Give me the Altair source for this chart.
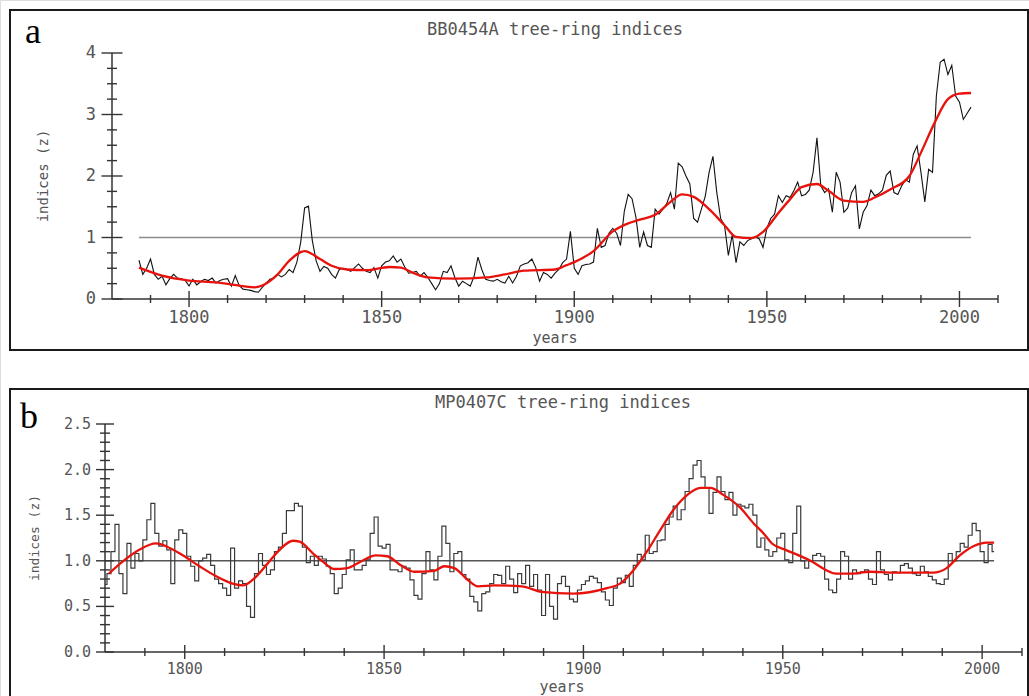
import altair as alt
import pandas as pd

# ---------------- data ----------------
A_START = 1787
a_index = [
    0.63, 0.40, 0.50, 0.65, 0.40, 0.32, 0.37, 0.23, 0.33, 0.40,
    0.34, 0.33, 0.30, 0.21, 0.32, 0.23, 0.28, 0.32, 0.30, 0.34,
    0.26, 0.30, 0.32, 0.33, 0.21, 0.38, 0.22, 0.16, 0.15, 0.14,
    0.12, 0.11, 0.19, 0.26, 0.32, 0.34, 0.40, 0.36, 0.40, 0.48,
    0.43, 0.60, 0.93, 1.48, 1.51, 0.95, 0.62, 0.45, 0.53, 0.50,
    0.40, 0.34, 0.48, 0.50, 0.48, 0.45, 0.51, 0.57, 0.50, 0.45,
    0.43, 0.51, 0.34, 0.54, 0.60, 0.62, 0.70, 0.60, 0.65, 0.52,
    0.42, 0.43, 0.45, 0.37, 0.43, 0.35, 0.25, 0.15, 0.25, 0.45,
    0.43, 0.54, 0.35, 0.21, 0.29, 0.25, 0.21, 0.37, 0.68, 0.48,
    0.32, 0.30, 0.29, 0.32, 0.28, 0.26, 0.37, 0.26, 0.37, 0.54,
    0.57, 0.59, 0.65, 0.51, 0.29, 0.43, 0.40, 0.34, 0.42, 0.48,
    0.59, 0.65, 1.10, 0.50, 0.40, 0.54, 0.56, 0.57, 0.60, 1.15,
    0.84, 0.87, 1.07, 1.15, 1.07, 0.87, 1.43, 1.70, 1.63, 1.33,
    0.84, 1.09, 0.87, 0.84, 1.46, 1.38, 1.46, 1.55, 1.73, 1.46,
    2.21, 2.15, 2.00, 1.87, 1.31, 1.25, 1.46, 1.67, 2.06, 2.32,
    1.73, 1.31, 1.20, 0.71, 1.04, 0.59, 0.93, 0.87, 0.95, 0.98,
    1.01, 0.98, 0.84, 1.15, 1.31, 1.38, 1.68, 1.57, 1.68, 1.65,
    1.76, 1.90, 1.68, 1.70, 1.77, 2.06, 2.62, 1.84, 1.73, 1.79,
    1.41, 2.06, 1.90, 1.41, 1.48, 1.73, 1.84, 1.14, 1.41, 1.52,
    1.77, 1.68, 1.71, 1.77, 2.01, 2.08, 1.73, 1.70, 1.84, 1.94,
    1.90, 2.35, 2.49, 2.06, 1.58, 2.11, 2.06, 3.30, 3.85, 3.90,
    3.65, 3.80, 3.30, 3.20, 2.92, 3.02, 3.12,
]
a_smooth_years = [1787, 1793, 1800, 1807, 1814, 1817, 1819, 1823, 1826, 1830,
                  1834, 1837, 1841, 1846, 1852, 1855, 1858, 1862, 1869, 1877,
                  1882, 1887, 1895, 1898, 1900, 1905, 1910, 1914, 1917, 1921,
                  1925, 1928, 1931, 1935, 1939, 1942, 1946, 1949, 1953, 1956,
                  1959, 1963, 1966, 1970, 1975, 1978, 1982, 1987, 1990, 1993.5,
                  1997, 2000, 2003]
a_smooth_vals = [0.51, 0.38, 0.30, 0.27, 0.21, 0.19, 0.22, 0.40, 0.62, 0.78,
                 0.65, 0.54, 0.48, 0.47, 0.52, 0.51, 0.43, 0.35, 0.33, 0.35,
                 0.40, 0.46, 0.48, 0.55, 0.60, 0.78, 1.10, 1.23, 1.29, 1.37,
                 1.58, 1.70, 1.66, 1.46, 1.20, 1.01, 0.99, 1.09, 1.40, 1.62,
                 1.82, 1.87, 1.76, 1.60, 1.58, 1.65, 1.78, 2.00, 2.38, 2.86,
                 3.25, 3.34, 3.35]

B_START = 1780
b_index = [
    0.74, 0.86, 1.10, 1.40, 0.86, 0.64, 1.19, 0.92, 1.08, 1.00,
    1.23, 1.45, 1.63, 1.30, 1.16, 1.22, 1.12, 0.75, 1.23, 1.34,
    1.30, 1.05, 0.94, 0.78, 1.00, 1.03, 1.07, 0.95, 0.80, 0.75,
    0.70, 0.62, 1.14, 0.70, 0.78, 0.75, 0.50, 0.38, 0.86, 1.08,
    0.95, 0.85, 0.90, 1.10, 1.15, 1.30, 1.55, 1.55, 1.63, 1.60,
    1.15, 0.98, 1.05, 0.95, 1.05, 1.02, 0.94, 0.86, 0.64, 0.70,
    0.85, 1.01, 1.12, 0.90, 0.90, 0.95, 1.01, 1.30, 1.48, 1.16,
    1.14, 1.18, 0.90, 0.90, 0.88, 0.94, 0.92, 0.79, 0.62, 0.58,
    0.86, 1.10, 0.90, 0.79, 1.05, 1.38, 1.19, 0.88, 1.08, 1.10,
    0.85, 0.80, 0.61, 0.55, 0.45, 0.64, 0.66, 0.75, 0.85, 0.84,
    0.75, 0.94, 0.80, 0.65, 0.86, 0.75, 0.95, 0.72, 0.85, 0.68,
    0.40, 0.85, 0.50, 0.36, 0.75, 0.83, 0.72, 0.58, 0.55, 0.68,
    0.74, 0.78, 0.83, 0.81, 0.76, 0.66, 0.57, 0.51, 0.70, 0.81,
    0.76, 0.84, 0.72, 0.95, 1.07, 1.01, 1.28, 1.08, 1.10, 1.22,
    1.23, 1.40, 1.48, 1.60, 1.45, 1.56, 1.76, 1.90, 2.05, 2.10,
    1.92, 1.80, 1.52, 1.75, 1.92, 1.76, 1.67, 1.75, 1.50, 1.62,
    1.60, 1.58, 1.62, 1.50, 1.15, 1.25, 1.12, 1.05, 1.10, 1.25,
    1.30, 1.01, 0.98, 1.30, 1.60, 1.00, 0.92, 1.00, 1.06, 1.08,
    1.05, 0.80, 0.68, 0.65, 0.80, 1.10, 1.05, 0.80, 0.90, 0.86,
    0.88, 0.90, 0.80, 0.74, 1.10, 0.90, 0.85, 0.79, 0.88, 0.87,
    0.95, 0.97, 0.92, 0.86, 0.84, 0.94, 0.88, 0.83, 0.79, 0.75,
    0.74, 0.80, 1.08, 1.00, 1.10, 1.19, 1.15, 1.28, 1.41, 1.33,
    1.10, 0.98, 1.18, 1.10,
]
b_smooth_years = [1781, 1784.4, 1788.6, 1792.8, 1795.3, 1799.5, 1803.7, 1807.9, 1812, 1814.6,
                  1817, 1820.4, 1823.8, 1827.1, 1828.8, 1832.2, 1834.7, 1837.4, 1840.8, 1844.1,
                  1847.9, 1850.8, 1854.2, 1857.6, 1862.6, 1865.1, 1867.6, 1871, 1873.5, 1877.7,
                  1884.5, 1889.5, 1897.5, 1905.9, 1909.2, 1912.6, 1915.9, 1919.3, 1922.6, 1926,
                  1929.3, 1931.8, 1935.2, 1939.4, 1942.7, 1945.2, 1947.3, 1950.7, 1954, 1957.4,
                  1960.8, 1963.3, 1967.5, 1971.7, 1977.6, 1983.5, 1987.7, 1991.1, 1994.4, 1997.8,
                  2001.2, 2003]
b_smooth_vals = [0.86, 0.99, 1.12, 1.19, 1.16, 1.06, 0.94, 0.83, 0.75, 0.73,
                 0.79, 0.95, 1.12, 1.22, 1.21, 1.08, 0.99, 0.91, 0.92, 0.99,
                 1.06, 1.05, 0.95, 0.88, 0.89, 0.94, 0.92, 0.79, 0.72, 0.73,
                 0.72, 0.66, 0.64, 0.70, 0.75, 0.90, 1.10, 1.34, 1.56, 1.72,
                 1.80, 1.80, 1.72, 1.58, 1.41, 1.30, 1.19, 1.12, 1.06, 0.99,
                 0.90, 0.86, 0.86, 0.88, 0.87, 0.87, 0.87, 0.92, 1.06, 1.16,
                 1.20, 1.20]

x_major = [1800, 1850, 1900, 1950, 2000]
x_minor = [1790, 1810, 1820, 1830, 1840, 1860, 1870, 1880, 1890,
           1910, 1920, 1930, 1940, 1960, 1970, 1980, 1990, 2010]
a_y_major = [0, 1, 2, 3, 4]
a_y_minor = [0.25, 0.5, 0.75, 1.25, 1.5, 1.75, 2.25, 2.5, 2.75, 3.25, 3.5, 3.75]
b_y_major = [0.0, 0.5, 1.0, 1.5, 2.0, 2.5]
b_y_minor = [0.1, 0.2, 0.3, 0.4, 0.6, 0.7, 0.8, 0.9, 1.1, 1.2, 1.3, 1.4,
             1.6, 1.7, 1.8, 1.9, 2.1, 2.2, 2.3, 2.4]

a_ref = {"start": [1787], "end": [2003], "level": [1.0]}
b_ref = {"start": [1780], "end": [2003], "level": [1.0]}

X_DOMAIN = [1780, 2010]
W, H = 1029, 696
MONO = "DejaVu Sans Mono"
AXIS_COL = "#333333"
LABEL_COL = "#555555"


def panel(vals, start, sm_years, sm_vals, ref, y_dom, y_px, x_px,
          y_major, y_minor, y_fmt, label_size, maj_x_len, min_x_len,
          maj_y_len, min_y_len, line_col, line_w, ref_col, interp, xlab_dy, ylab_dx):
    df = pd.DataFrame({"year": list(range(start, start + len(vals))), "z": vals})
    sm = pd.DataFrame({"year": sm_years, "z": sm_vals})
    refdf = pd.DataFrame(ref)
    xs = alt.Scale(domain=X_DOMAIN, range=x_px, nice=False, zero=False)
    ys = alt.Scale(domain=y_dom, range=[y_px[1], y_px[0]], nice=False, zero=False)

    def X(field):
        return alt.X(field, scale=xs, axis=None)

    def Y(field):
        return alt.Y(field, scale=ys, axis=None)

    x0 = alt.XDatum(X_DOMAIN[0], scale=xs, axis=None)
    y0 = alt.YDatum(y_dom[0], scale=ys, axis=None)

    # axis lines
    x_domain_line = alt.Chart(pd.DataFrame({"a": [X_DOMAIN[0]], "b": [X_DOMAIN[1]]})).mark_rule(
        color=AXIS_COL, strokeWidth=1.5).encode(x=X("a:Q"), x2="b:Q", y=y0)
    y_domain_line = alt.Chart(pd.DataFrame({"a": [y_dom[0]], "b": [y_dom[1]]})).mark_rule(
        color=AXIS_COL, strokeWidth=1.5).encode(y=Y("a:Q"), y2="b:Q", x=x0)

    refline = alt.Chart(refdf).mark_rule(color=ref_col, strokeWidth=1.4).encode(
        x=X("start:Q"), x2="end:Q", y=Y("level:Q"))
    raw = alt.Chart(df).mark_line(color=line_col, strokeWidth=line_w,
                                  interpolate=interp).encode(x=X("year:Q"), y=Y("z:Q"))
    smooth = alt.Chart(sm).mark_line(color="#e8120c", strokeWidth=2.3,
                                     interpolate="monotone").encode(x=X("year:Q"), y=Y("z:Q"))

    def xticks(vals_, length):
        return alt.Chart(pd.DataFrame({"t": vals_})).mark_tick(
            orient="vertical", size=length, thickness=1.4, color=AXIS_COL, opacity=1
        ).encode(x=X("t:Q"), y=y0)

    def yticks(vals_, length):
        return alt.Chart(pd.DataFrame({"t": vals_})).mark_tick(
            orient="horizontal", size=length, thickness=1.4, color=AXIS_COL, opacity=1
        ).encode(x=x0, y=Y("t:Q"))

    xlabels = alt.Chart(pd.DataFrame({"t": x_major})).mark_text(
        font=MONO, fontSize=label_size, color=LABEL_COL, align="center",
        baseline="top", dy=xlab_dy).encode(x=X("t:Q"), y=y0,
                                           text=alt.Text("t:Q", format="d"))
    ylabels = alt.Chart(pd.DataFrame({"t": y_major})).mark_text(
        font=MONO, fontSize=label_size, color=LABEL_COL, align="right",
        baseline="middle", dx=ylab_dx).encode(x=x0, y=Y("t:Q"),
                                              text=alt.Text("t:Q", format=y_fmt))

    return [refline, x_domain_line, y_domain_line,
            xticks(x_major, maj_x_len), xticks(x_minor, min_x_len),
            yticks(y_major, maj_y_len), yticks(y_minor, min_y_len),
            xlabels, ylabels, raw, smooth]


layers_a = panel(a_index, A_START, a_smooth_years, a_smooth_vals, a_ref,
                 [0, 4], [53, 299], [112, 998], a_y_major, a_y_minor, "d", 17,
                 16, 8, 21, 10, "#111111", 1.1, "#8c8c8c", "linear", 11, -16)
layers_b = panel(b_index, B_START, b_smooth_years, b_smooth_vals, b_ref,
                 [0, 2.5], [424, 652], [105, 1022], b_y_major, b_y_minor, ".1f", 15,
                 14, 8, 18, 10, "#3a3a3a", 1.2, "#555555", "step", 10, -14)

one = pd.DataFrame({"k": [0]})


def frame(x1, y1, x2, y2):
    return alt.Chart(one).mark_rect(fillOpacity=0, stroke="#1a1a1a", strokeWidth=2).encode(
        x=alt.value(x1), x2=alt.value(x2), y=alt.value(y1), y2=alt.value(y2))


def label(text, x, y, size, font, color, angle=0, align="center", baseline="middle"):
    return alt.Chart(one).mark_text(text=text, font=font, fontSize=size, color=color,
                                    angle=angle, align=align, baseline=baseline).encode(
        x=alt.value(x), y=alt.value(y))


decor = [
    frame(10, 10, 1028, 350),
    frame(10, 389, 1028, 705),
    label("BB0454A tree-ring indices", 555, 30, 17, MONO, LABEL_COL),
    label("MP0407C tree-ring indices", 563, 403, 17, MONO, LABEL_COL),
    label("a", 25, 43, 36, "Liberation Serif", "#000000", align="left", baseline="alphabetic"),
    label("b", 20, 428, 36, "Liberation Serif", "#000000", align="left", baseline="alphabetic"),
    label("indices (z)", 44, 176, 14, MONO, LABEL_COL, angle=270),
    label("indices (z)", 35, 538, 13, MONO, LABEL_COL, angle=270),
    label("years", 555, 338, 15, MONO, LABEL_COL),
    label("years", 562, 687, 15, MONO, LABEL_COL),
]

chart = alt.layer(*decor, *layers_a, *layers_b).resolve_scale(
    x="independent", y="independent"
).properties(
    width=W, height=H, padding=0, autosize=alt.AutoSizeParams(type="none")
).configure_view(stroke=None).configure(background="white")

chart.save("out.html", embed_options={"renderer": "svg", "actions": False})
